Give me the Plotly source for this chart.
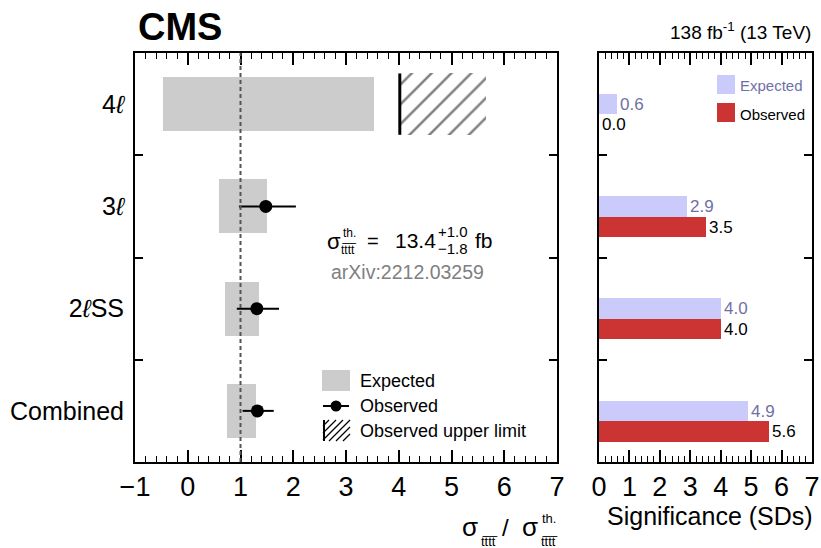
import plotly.graph_objects as go

# ---------------- data ----------------
categories = ["4<i>ℓ</i>", "3<i>ℓ</i>", "2<i>ℓ</i>SS", "Combined"]
cat_pos = [0, 1, 2, 3]

# expected 68% band on sigma / sigma_th
exp_lo = [-0.47, 0.59, 0.70, 0.74]
exp_hi = [3.53, 1.50, 1.35, 1.29]

# observed ratio (4l has only an upper limit)
obs_cat = [1, 2, 3]
obs_val = [1.48, 1.31, 1.32]
obs_lo = [0.97, 0.93, 1.04]
obs_hi = [2.05, 1.73, 1.63]

# observed upper limit for 4l
ul_cat = [0]
ul_lo = [4.02]
ul_hi = [5.65]

sm_ratio = 1.0

# significances
sig_exp = [0.6, 2.9, 4.0, 4.9]
sig_obs = [0.0, 3.5, 4.0, 5.6]

left_ticks = [-1, 0, 1, 2, 3, 4, 5, 6, 7]
right_ticks = [0, 1, 2, 3, 4, 5, 6, 7]

# ---------------- style ----------------
W, H = 821, 548
FONT = "Liberation Sans, Arial, Helvetica, sans-serif"
GRAY = "#cccccc"
EXP_C = "#cbcbfb"
EXP_TXT = "#7070a6"
OBS_C = "#cc3333"
BAND_W = 0.53
UL_W = 0.6
SIG_W = 0.2


def px(x):
    return x / W


def py(y):
    return 1 - y / H


fig = go.Figure()

# expected band
fig.add_trace(go.Bar(
    orientation="h", y=cat_pos, base=exp_lo,
    x=[h - l for l, h in zip(exp_lo, exp_hi)],
    width=BAND_W, marker=dict(color=GRAY, line=dict(width=0)),
    name="Expected", showlegend=False,
    xaxis="x", yaxis="y", hoverinfo="skip",
))

# observed upper limit (hatched)
fig.add_trace(go.Bar(
    orientation="h", y=ul_cat, base=ul_lo,
    x=[h - l for l, h in zip(ul_lo, ul_hi)],
    width=UL_W,
    marker=dict(color="white", line=dict(width=0),
                pattern=dict(shape="/", fgcolor="black", bgcolor="white",
                             size=14, solidity=0.18)),
    name="Observed upper limit", showlegend=False,
    xaxis="x", yaxis="y", hoverinfo="skip",
))
for c, lo in zip(ul_cat, ul_lo):
    fig.add_trace(go.Scatter(
        x=[lo, lo], y=[c - UL_W / 2, c + UL_W / 2], mode="lines",
        line=dict(color="black", width=3), showlegend=False,
        xaxis="x", yaxis="y", hoverinfo="skip",
    ))

# observed points
fig.add_trace(go.Scatter(
    x=obs_val, y=obs_cat, mode="markers",
    marker=dict(color="black", size=13),
    error_x=dict(type="data",
                 array=[h - v for v, h in zip(obs_val, obs_hi)],
                 arrayminus=[v - l for v, l in zip(obs_val, obs_lo)],
                 symmetric=False, color="black", thickness=2, width=0),
    name="Observed", showlegend=False,
    xaxis="x", yaxis="y", hoverinfo="skip",
))

# significance bars
fig.add_trace(go.Bar(
    orientation="h", y=cat_pos, x=sig_exp, offset=-SIG_W / 2, width=SIG_W,
    marker=dict(color=EXP_C, line=dict(width=0)),
    text=[f"{v:.1f}" for v in sig_exp], textposition="outside",
    textfont=dict(color=EXP_TXT, size=17, family=FONT), constraintext="none",
    cliponaxis=False, name="Expected", showlegend=False,
    xaxis="x2", yaxis="y2", hoverinfo="skip",
))
fig.add_trace(go.Bar(
    orientation="h", y=cat_pos, x=sig_obs, offset=SIG_W / 2, width=SIG_W,
    marker=dict(color=OBS_C, line=dict(width=0)),
    text=[f"{v:.1f}" for v in sig_obs], textposition="outside",
    textfont=dict(color="black", size=17, family=FONT), constraintext="none",
    cliponaxis=False, name="Observed", showlegend=False,
    xaxis="x2", yaxis="y2", hoverinfo="skip",
))

xdom_l = [px(135), px(557)]
xdom_r = [px(599), px(812)]
ydom = [py(462), py(53)]

axis_common = dict(showline=True, linecolor="black", linewidth=2, mirror="ticks",
                   showgrid=False, zeroline=False, ticks="inside", ticklen=12,
                   tickwidth=1.5, tickcolor="black", automargin=False,
                   tickfont=dict(size=27, color="black", family=FONT))
yaxis_common = {**axis_common, "ticks": "", "ticklen": 0,
                "tickfont": dict(size=25, color="black", family=FONT)}

shapes = [dict(type="line", xref="x", yref="y domain", x0=sm_ratio, x1=sm_ratio,
               y0=0, y1=1, line=dict(color="#555555", width=2, dash="4px,3px"))]


def rect(x0, y0, x1, y1, color):
    shapes.append(dict(type="rect", xref="paper", yref="paper",
                       x0=px(x0), x1=px(x1), y0=py(y1), y1=py(y0),
                       fillcolor=color, line=dict(width=0)))


def seg(x0, y0, x1, y1, width, color="black"):
    shapes.append(dict(type="line", xref="paper", yref="paper",
                       x0=px(x0), x1=px(x1), y0=py(y0), y1=py(y1),
                       line=dict(color=color, width=width)))


# ---- left legend glyphs ----
rect(322, 370, 350, 391, GRAY)
seg(323, 406, 349, 406, 2)
shapes.append(dict(type="circle", xref="paper", yref="paper",
                   x0=px(330.5), x1=px(341.5), y0=py(411.5), y1=py(400.5),
                   fillcolor="black", line=dict(width=0)))
hx0, hx1, hy0, hy1 = 323, 350, 420, 441
seg(hx0 + 1, hy0, hx0 + 1, hy1, 2)
span = hy1 - hy0
for o in range(-span + 6, hx1 - hx0, 7):
    xa = max(hx0, hx0 + o)
    xb = min(hx1, hx0 + o + span)
    if xb - xa > 1:
        seg(xa, hy1 - (xa - hx0 - o), xb, hy1 - (xb - hx0 - o), 1.2)

# ---- right legend glyphs ----
rect(717, 75, 735, 94, EXP_C)
rect(717, 103, 735, 122, OBS_C)

fig.update_layout(
    width=W, height=H, margin=dict(l=0, r=0, t=0, b=0, autoexpand=False),
    paper_bgcolor="white", plot_bgcolor="white",
    font=dict(family=FONT, color="black"),
    barmode="overlay", bargap=0, showlegend=False,
    xaxis=dict(domain=xdom_l, anchor="y", range=[-1, 7], tickvals=left_ticks,
               minor=dict(dtick=0.2, tick0=0, ticks="inside", ticklen=6,
                          tickwidth=1, tickcolor="black"),
               **axis_common),
    yaxis=dict(domain=ydom, anchor="x", range=[3.5, -0.5], tickvals=cat_pos,
               ticktext=categories, ticklabelstandoff=4,
               minor=dict(tickvals=[0.5, 1.5, 2.5], ticks="inside", ticklen=8,
                          tickwidth=1.5, tickcolor="black"),
               **yaxis_common),
    xaxis2=dict(domain=xdom_r, anchor="y2", range=[0, 7], tickvals=right_ticks,
                minor=dict(dtick=0.2, tick0=0, ticks="inside", ticklen=6,
                           tickwidth=1, tickcolor="black"),
                **axis_common),
    yaxis2=dict(domain=ydom, anchor="x2", range=[3.5, -0.5], tickvals=cat_pos,
                showticklabels=False,
                minor=dict(tickvals=[0.5, 1.5, 2.5], ticks="inside", ticklen=8,
                           tickwidth=1.5, tickcolor="black"),
                **yaxis_common),
    shapes=shapes,
)

TT = "tt\u0305tt\u0305"


def ann(text, x, y, size, color="black", xanchor="center", bold=False):
    if bold:
        text = "<b>%s</b>" % text
    fig.add_annotation(text=text, x=px(x), y=py(y), xref="paper", yref="paper",
                       xanchor=xanchor, yanchor="middle", showarrow=False,
                       font=dict(size=size, color=color, family=FONT))


ann("CMS", 136, 27, 38, xanchor="left", bold=True)
ann("138 fb<sup>-1</sup> (13 TeV)", 813, 31, 19, xanchor="right")

# legends text
ann("Expected", 358, 381, 18, xanchor="left")
ann("Observed", 358, 406, 18, xanchor="left")
ann("Observed upper limit", 358, 431, 18, xanchor="left")
ann("Expected", 738, 86, 15, color=EXP_TXT, xanchor="left")
ann("Observed", 738, 114, 15, xanchor="left")

# cross-section formula
ann("σ", 334, 241, 22)
ann("th.", 349, 233, 12)
ann(TT, 349, 250, 12)
ann("=", 373, 241, 20)
ann("13.4", 416, 240, 21)
ann("+1.0", 453, 232, 15)
ann("\u22121.8", 453, 249, 15)
ann("fb", 484, 240, 21)
ann("arXiv:2212.03259", 329, 272, 19.5, color="#808080", xanchor="left")

# left axis title
ann("σ", 470, 527, 26)
ann(TT, 489, 541, 13)
ann("/", 505, 527, 24)
ann("σ", 530, 527, 26)
ann("th.", 549, 518, 13)
ann(TT, 549, 541, 13)

ann("Significance (SDs)", 710, 516, 25)

fig.write_html("out.html", config={"displayModeBar": False},
               post_script="document.body.style.margin='0';")
